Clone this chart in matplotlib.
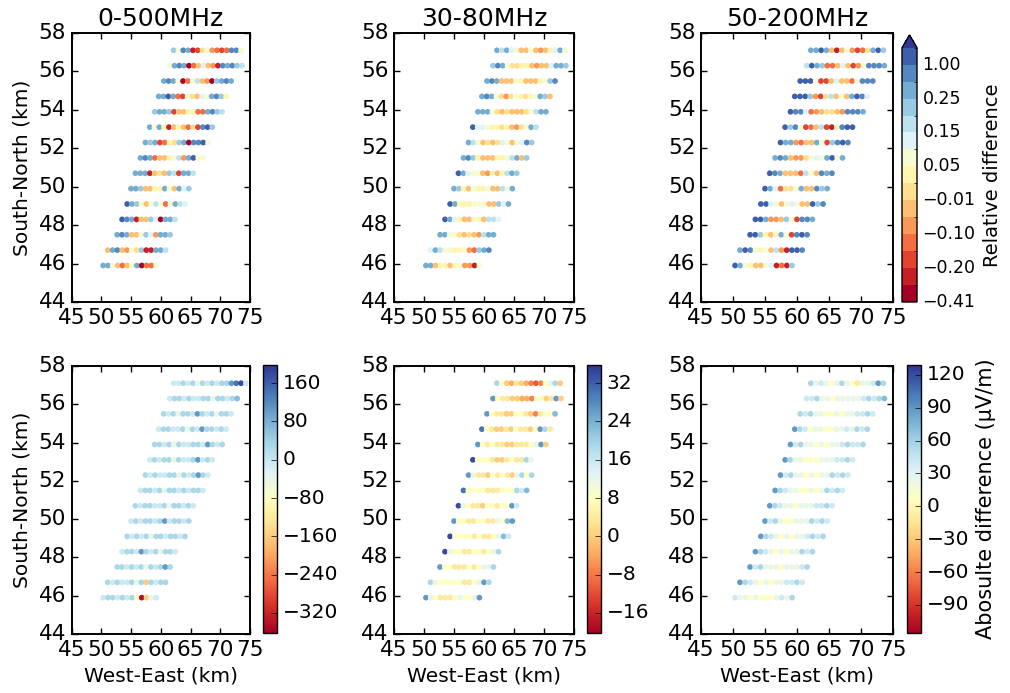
import numpy as np
import matplotlib.pyplot as plt
from matplotlib.colors import BoundaryNorm

# grid of stations: rows listed from top (north) to bottom (south)
row_y = [57.1, 56.3, 55.5, 54.7, 53.9, 53.1, 52.3, 51.5, 50.7, 49.9, 49.1, 48.3, 47.5, 46.7, 45.9]
row_x0 = [62.16, 61.5, 60.5, 59.65, 58.98, 58.14, 57.42, 56.58, 55.74, 55.0, 54.35, 53.5, 52.67, 51.09, 50.32]
dx = 0.81

titles = ["0-500MHz", "30-80MHz", "50-200MHz"]

# relative difference, colour band index per station (0 = lowest band ... e = highest)
rel_0_500 = ["b8dc12684323dd8", "8cdc0359541dcdba", "cdc8038a540bcdc", "ccec3286598cdb7",
             "bccb2557733cdba", "c8c71575362deb", "cbc2376bc0dde8", "cdc35578a4ce88",
             "ccc1565ba2cca", "ccb5577c85c9b", "ecb858a838ca9", "edc155b90cca",
             "cdc558b94ccb", "5cd5486b11cca", "cc85358c0338"]
rel_30_80 = ["cac9855854579c8", "bdc8667754559ccb", "cdc5558755578bd", "cdc864687678cb5",
             "ccc865655568acc", "e99877675468ca", "ca8565698589db", "cdb7555778ac5b",
             "ec98854757acb", "cb75877855a8c", "ec77788855b9c", "ec9755875aa9",
             "cc8865654acc", "9ca8877843bcd", "cc5775784418"]
rel_50_200 = ["ccec51584236ceb", "aecb33595248dddc", "eee822595538ddd", "eeeb426a585ced9",
              "edd93456654dddc", "ebd8235a217dee", "ecc4355c82bded", "cdc5446898ce8c",
              "edc5553a85dcd", "ec93668c55dbc", "ee98589855ebd", "eec445b82ddc",
              "eeb757c82ded", "ced8785a41eed", "ec875589131b"]

rel_bounds = [-0.41, -0.28, -0.20, -0.14, -0.10, -0.05, -0.01, 0.02, 0.05, 0.10,
              0.15, 0.20, 0.25, 0.50, 1.00, 2.00]

# absolute difference, colour level per station (0 = vmin ... e = vmax)
abs_0_500 = ["99a9a8a9a9aacde9", "9aa9a99aa8aa9ab", "a9a8aa9ca9a8aa9", "9aa99a8a9caa9a9",
             "aa9a8a99aa9ca9a", "9a9aa8a99ac9a9", "a9a99aa8a9aca9", "9aa9a8aa9a9aa9",
             "a9aa99a8aa9a9", "9a9aa9ac9aa9a", "a9a9a8aa9aa9a", "9aa9ca9a8aa9",
             "aa9a9a8a9aca", "a9a99a8a5a9aa", "9aa9a9a70589"]
abs_30_80 = ["a75465432378a5", "c766554437756c5", "c7665577653677b", "d76556576657ca6",
             "c767665566678c5", "e7776556766a8", "c8665767658a7a", "d7777666777a9b",
             "e8766577677c9", "c7766776687bc", "e7777676678b9", "e8776677678a",
             "c7766676788a", "a8777776678ca", "c8766678778c"]
abs_50_200 = ["a89878a876889ca", "99a887888889a9ab", "a9a8877878899a9", "ca9788778898a9a",
              "c9a88787889a99a", "ca8877788899a9", "c9a8878788a9a9", "ca98877878a9a9",
              "ca988788899a9", "c9a877888a9a9", "ca98787889a9a", "ca9878788a9a",
              "c9a88878889a", "ca987878899a9", "98878777898a"]

abs_ranges = [(-362, 198), (-20.2, 35.8), (-115.6, 129.0)]
abs_ticks = [[-320, -240, -160, -80, 0, 80, 160],
             [-16, -8, 0, 8, 16, 24, 32],
             [-90, -60, -30, 0, 30, 60, 90, 120]]


def stations(codes):
    xs, ys, cs = [], [], []
    for y, x0, row in zip(row_y, row_x0, codes):
        for i, ch in enumerate(row):
            xs.append(x0 + i * dx)
            ys.append(y)
            cs.append(int(ch, 16))
    return np.array(xs), np.array(ys), np.array(cs)


plt.style.use('classic')
plt.rcParams['figure.facecolor'] = 'white'
plt.rcParams['savefig.facecolor'] = 'white'
plt.rcParams['font.family'] = 'DejaVu Sans'

W, H = 1010.0, 693.0


def px_axes(fig, x0, x1, y0, y1):
    return fig.add_axes([x0 / W, 1 - y1 / H, (x1 - x0) / W, (y1 - y0) / H])


fig = plt.figure(figsize=(10.1, 6.93), dpi=100)
cmap = plt.get_cmap('RdYlBu')

col_x = [(71.5, 250), (394, 574), (701, 893)]
top_y = (33, 302)
bot_y = (366, 634)

rel_mid = 0.5 * (np.array(rel_bounds[:-1]) + np.array(rel_bounds[1:]))
rel_norm = BoundaryNorm(rel_bounds, cmap.N, extend='max')


def style_axes(ax):
    ax.set_xlim(45, 75)
    ax.set_ylim(44, 58)
    ax.set_xticks([45, 50, 55, 60, 65, 70, 75])
    ax.set_yticks([44, 46, 48, 50, 52, 54, 56, 58])
    ax.tick_params(labelsize=15.5, length=4, width=1)
    for s in ax.spines.values():
        s.set_linewidth(1.4)


sc_top = None
for j, codes in enumerate([rel_0_500, rel_30_80, rel_50_200]):
    ax = px_axes(fig, col_x[j][0], col_x[j][1], top_y[0], top_y[1])
    xs, ys, cs = stations(codes)
    sc_top = ax.scatter(xs, ys, c=rel_mid[cs], cmap=cmap, norm=rel_norm, s=17,
                        edgecolors='none')
    style_axes(ax)
    ax.set_title(titles[j], fontsize=18)
    if j == 0:
        ax.set_ylabel("South-North (km)", fontsize=14.5)

rel_ticks = rel_bounds[:-1][::2]
cax = px_axes(fig, 902, 917, 35, 302)
cb = fig.colorbar(sc_top, cax=cax, extend='max', spacing='uniform')
cb.set_ticks(rel_ticks)
cb.set_ticklabels([('%.2f' % t).replace('-', '\u2212') for t in rel_ticks])
cb.ax.tick_params(labelsize=12.5, length=0)
cb.set_label("Relative difference", fontsize=14)

cbar_x = [(263, 277), (587, 601), (907, 921)]
for j, codes in enumerate([abs_0_500, abs_30_80, abs_50_200]):
    ax = px_axes(fig, col_x[j][0], col_x[j][1], bot_y[0], bot_y[1])
    xs, ys, cs = stations(codes)
    vmin, vmax = abs_ranges[j]
    vals = vmin + (cs + 0.5) / 15.0 * (vmax - vmin)
    sc = ax.scatter(xs, ys, c=vals, cmap=cmap, vmin=vmin, vmax=vmax, s=17,
                    edgecolors='none')
    style_axes(ax)
    ax.set_xlabel("West-East (km)", fontsize=14.5)
    if j == 0:
        ax.set_ylabel("South-North (km)", fontsize=14.5)
    cax = px_axes(fig, cbar_x[j][0], cbar_x[j][1], 365, 633)
    cb = fig.colorbar(sc, cax=cax, ticks=abs_ticks[j])
    cb.ax.tick_params(labelsize=14.5, length=4)
    if j == 2:
        cb.set_label("Abosulte difference (\u03bcV/m)", fontsize=15)

fig.savefig("out.png", dpi=100)
